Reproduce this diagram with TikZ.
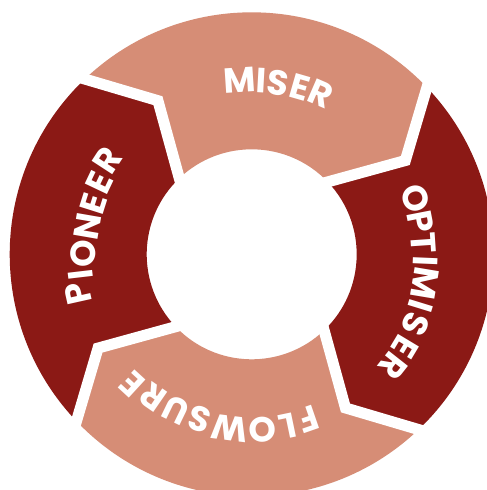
\documentclass[tikz,border=0pt]{standalone}
\usepackage{fontspec}
\setmainfont{Poppins}
\definecolor{lightseg}{HTML}{D68D76}
\definecolor{darkseg}{HTML}{8B1915}
\newcommand\Ro{242}
\newcommand\Ri{105}
\newcommand\Rv{180}
\newcommand\Voff{12.2}
\newcommand\ringseg[3]{%
  \fill[#3] (#2:\Ro pt) arc[start angle=#2, end angle=#1, radius=\Ro pt]
    -- ({#1-\Voff}:\Rv pt) -- (#1:\Ri pt)
    arc[start angle=#1, end angle=#2, radius=\Ri pt]
    -- ({#2-\Voff}:\Rv pt) -- cycle;}
\begin{document}
\begin{tikzpicture}[x=1pt,y=1pt,
  gapline/.style={white, line width=11pt, line cap=rect, line join=miter},
  lt/.style={text=white, font=\bfseries\fontsize{35}{35}\selectfont, inner sep=0pt, anchor=center}]
\useasboundingbox (-251.7,-235.7) rectangle (235.3,254.3);
\fill[white] (-251.7,-235.7) rectangle (235.3,254.3);
\ringseg{43.6}{133.6}{lightseg}
\ringseg{-46.4}{43.6}{darkseg}
\ringseg{-136.4}{-46.4}{lightseg}
\ringseg{133.6}{223.6}{darkseg}
\foreach \b in {133.6,43.6,-46.4,-136.4}
  \draw[gapline] (\b:\Ro pt) -- ({\b-\Voff}:\Rv pt) -- (\b:\Ri pt);
% MISER
\foreach \ch/\a/\r [count=\i] in {M/93.8/175, I/86.8/174, S/81.2/173, E/73.9/174, R/66.6/175}
  \node[lt, rotate=\a-90] (mi\i) at (\a:\r pt) {\ch};
% OPTIMISER
\foreach \ch/\a/\r [count=\i] in {O/18.8/173, P/11.0/172, T/3.9/172, I/-2.4/174, M/-9.5/176, I/-17.1/177, S/-23.2/178, E/-31.0/179, R/-38.3/180}
  \node[lt, rotate=\a-90] (op\i) at (\a:\r pt) {\ch};
% FLOWSURE
\foreach \ch/\a/\r [count=\i] in {F/-70.9/175, L/-78.2/176, O/-86.3/176, W/-97.2/175, S/-107.6/173, U/-115.9/173, R/-124.7/174, E/-132.6/177}
  \node[lt, rotate=\a-90] (fl\i) at (\a:\r pt) {\ch};
% PIONEER
\foreach \ch/\a/\r [count=\i] in {P/192.6/178, I/186.7/172.5, O/179.7/168, N/170.2/166, E/162.4/166, E/154.6/168, R/146.9/172.5}
  \node[lt, rotate=\a-90] (pi\i) at (\a:\r pt) {\ch};
\end{tikzpicture}
\end{document}
